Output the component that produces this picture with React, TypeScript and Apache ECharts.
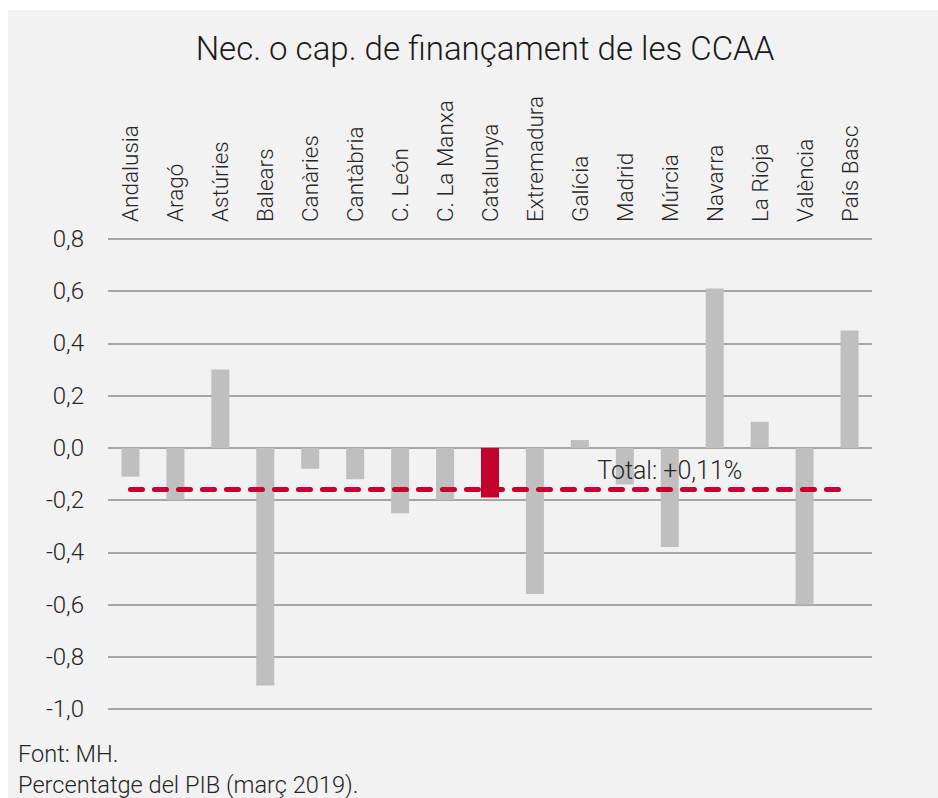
import React, { useEffect, useRef } from "react";
import * as echarts from "echarts";

const categories = [
  "Andalusia", "Aragó", "Astúries", "Balears", "Canàries", "Cantàbria", "C. León",
  "C. La Manxa", "Catalunya", "Extremadura", "Galícia", "Madrid", "Múrcia",
  "Navarra", "La Rioja", "València", "País Basc",
];
const values = [
  -0.11, -0.2, 0.3, -0.91, -0.08, -0.12, -0.25, -0.2, -0.19, -0.56, 0.03, -0.14,
  -0.38, 0.61, 0.1, -0.6, 0.45,
];
const highlighted = "Catalunya";
const totalLineValue = -0.16;
const totalLabel = "Total: +0,11%";
const totalLabelAnchor = ["Múrcia", -0.087];
const titleText = "Nec. o cap. de finançament de les CCAA";
const footnotes = ["Font: MH.", "Percentatge del PIB (març 2019)."];
const yMin = -1;
const yMax = 0.8;
const yStep = 0.2;

const FONT = "Roboto, 'Noto Sans', sans-serif";
const TEXT = "#262626";

export default function App() {
  const ref = useRef<HTMLDivElement>(null);
  useEffect(() => {
    if (!ref.current) return;
    const chart = echarts.init(ref.current, undefined, { renderer: "svg" });
    chart.setOption({
      animation: false,
      backgroundColor: "#ffffff",
      title: {
        text: titleText,
        left: 480,
        textAlign: "center",
        top: 27,
        textStyle: { fontFamily: FONT, fontWeight: 300, fontSize: 33, color: "#1a1a1a" },
      },
      graphic: [
        {
          type: "rect",
          z: -10,
          shape: { x: 8, y: 10, width: 930, height: 788 },
          style: { fill: "#f2f2f2" },
          silent: true,
        },
        {
          type: "text",
          x: 18,
          y: 754,
          style: {
            text: footnotes[0],
            fontFamily: FONT,
            fontWeight: 300,
            fontSize: 23.6,
            fill: TEXT,
            verticalAlign: "middle",
          },
        },
        {
          type: "text",
          x: 18,
          y: 785,
          style: {
            text: footnotes[1],
            fontFamily: FONT,
            fontWeight: 300,
            fontSize: 23.6,
            fill: TEXT,
            verticalAlign: "middle",
          },
        },
      ],
      grid: { left: 108, right: 66, top: 239, bottom: 89, outerBoundsMode: "none" },
      xAxis: {
        type: "category",
        position: "top",
        data: categories,
        axisLine: { show: false },
        axisTick: { show: false },
        axisLabel: {
          rotate: 90,
          margin: 17,
          interval: 0,
          fontFamily: FONT,
          fontWeight: 300,
          fontSize: 22.5,
          color: TEXT,
        },
      },
      yAxis: {
        type: "value",
        min: yMin,
        max: yMax,
        interval: yStep,
        axisLine: { show: false },
        axisTick: { show: false },
        splitLine: { lineStyle: { color: "#8c8c8c", width: 1.6 } },
        axisLabel: {
          margin: 24,
          fontFamily: FONT,
          fontWeight: 300,
          fontSize: 24,
          color: TEXT,
          formatter: (v: number) => v.toFixed(1).replace(".", ","),
        },
      },
      series: [
        {
          type: "bar",
          barWidth: 18,
          data: values.map((v, i) => ({
            value: v,
            itemStyle: { color: categories[i] === highlighted ? "#c4002f" : "#bfbfbf" },
          })),
          markLine: {
            silent: true,
            symbol: ["none", "none"],
            label: { show: false },
            lineStyle: {
              color: "#c8002d",
              width: 5,
              type: [12, 12],
              cap: "round",
            },
            data: [
              [
                { coord: [categories[0], totalLineValue] },
                { coord: [categories[categories.length - 1], totalLineValue] },
              ],
            ],
          },
          markPoint: {
            silent: true,
            symbol: "circle",
            symbolSize: 0,
            label: {
              show: true,
              position: "inside",
              formatter: totalLabel,
              fontFamily: FONT,
              fontWeight: 300,
              fontSize: 25,
              color: TEXT,
            },
            data: [{ coord: totalLabelAnchor }],
          },
        },
      ],
    });
    return () => chart.dispose();
  }, []);
  return (
    <div
      ref={ref}
      style={{ position: "absolute", left: 0, top: 0, width: 938, height: 798 }}
    />
  );
}
